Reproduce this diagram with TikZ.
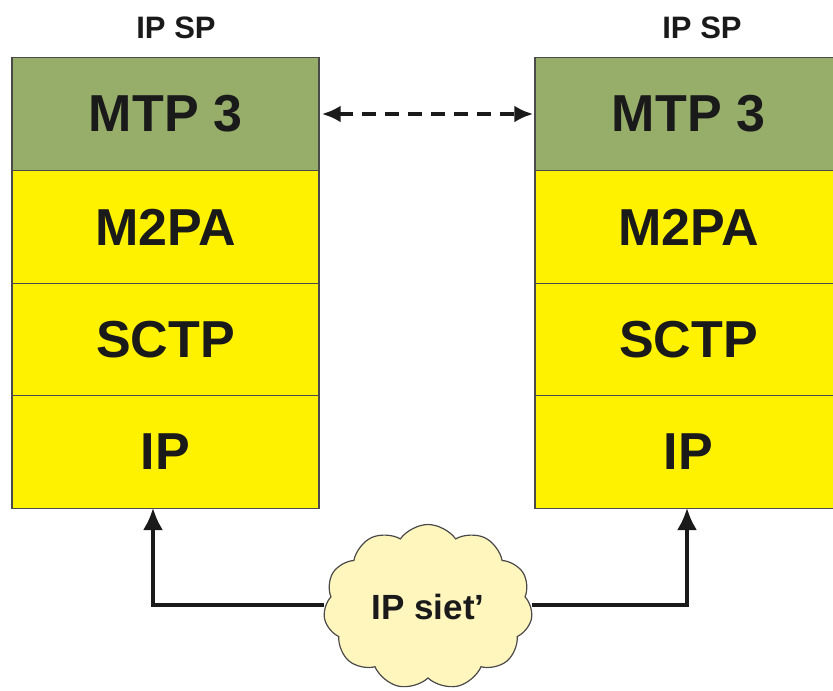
\documentclass[tikz,border=0pt]{standalone}
\usepackage{fontspec}
\setmainfont{Liberation Sans}
\usetikzlibrary{shapes.symbols,arrows.meta,calc}
\definecolor{mtpgreen}{HTML}{97AD6A}
\definecolor{layeryellow}{HTML}{FFF200}
\definecolor{cloudfill}{HTML}{FFF6BE}
\definecolor{edgegray}{HTML}{4A4A4A}
\definecolor{inkc}{HTML}{1A1A1A}
\begin{document}
\begin{tikzpicture}[x=1pt,y=-1pt,
  layer/.style={rectangle,draw=edgegray,line width=1.4pt,minimum width=307pt,minimum height=113pt,
    inner sep=0pt,text=inkc,font=\fontsize{52}{56}\selectfont\bfseries},
  greenlayer/.style={layer,fill=mtpgreen},
  yellowlayer/.style={layer,fill=layeryellow},
  title/.style={text=inkc,font=\fontsize{31}{34}\selectfont\bfseries,inner sep=0pt},
  link/.style={draw=inkc,line width=3.2pt,-{Latex[length=22pt,width=20pt]}},
  peer/.style={draw=inkc,line width=4pt,dash pattern=on 14pt off 9pt,{Latex[length=19pt,width=17pt]}-{Latex[length=19pt,width=17pt]}}
]
\useasboundingbox (0,0) rectangle (833,691);
\fill[white] (0,0) rectangle (833,691);
% left stack
\node[greenlayer]  (L3) at (165.5,114) {MTP 3};
\node[yellowlayer] (L2) at (165.5,227) {M2PA};
\node[yellowlayer] (L1) at (165.5,340) {SCTP};
\node[yellowlayer] (L0) at (165.5,452) {IP};
% right stack
\node[greenlayer]  (R3) at (688.5,114) {MTP 3};
\node[yellowlayer] (R2) at (688.5,227) {M2PA};
\node[yellowlayer] (R1) at (688.5,340) {SCTP};
\node[yellowlayer] (R0) at (688.5,452) {IP};
% titles
\node[title] (TL) at (176,28) {IP SP};
\node[title] (TR) at (702,28) {IP SP};
% cloud
\node[cloud,cloud puffs=11,cloud puff arc=110,aspect=1.25,draw=edgegray,line width=1.2pt,fill=cloudfill,
  minimum width=209pt,minimum height=165pt,inner sep=0pt,text=inkc,
  font=\fontsize{35}{38}\selectfont\bfseries] (net) at (428,607) {IP siet’};
\coordinate (la) at (153,508);
\coordinate (ra) at (687,508);
% connectors
\draw[link] (net.west |- 0,605) -| (la);
\draw[link] (net.east |- 0,605) -| (ra);
\draw[peer] ($(L3.east)+(2,0)$) -- ($(R3.west)+(-1,0)$);
\end{tikzpicture}
\end{document}
